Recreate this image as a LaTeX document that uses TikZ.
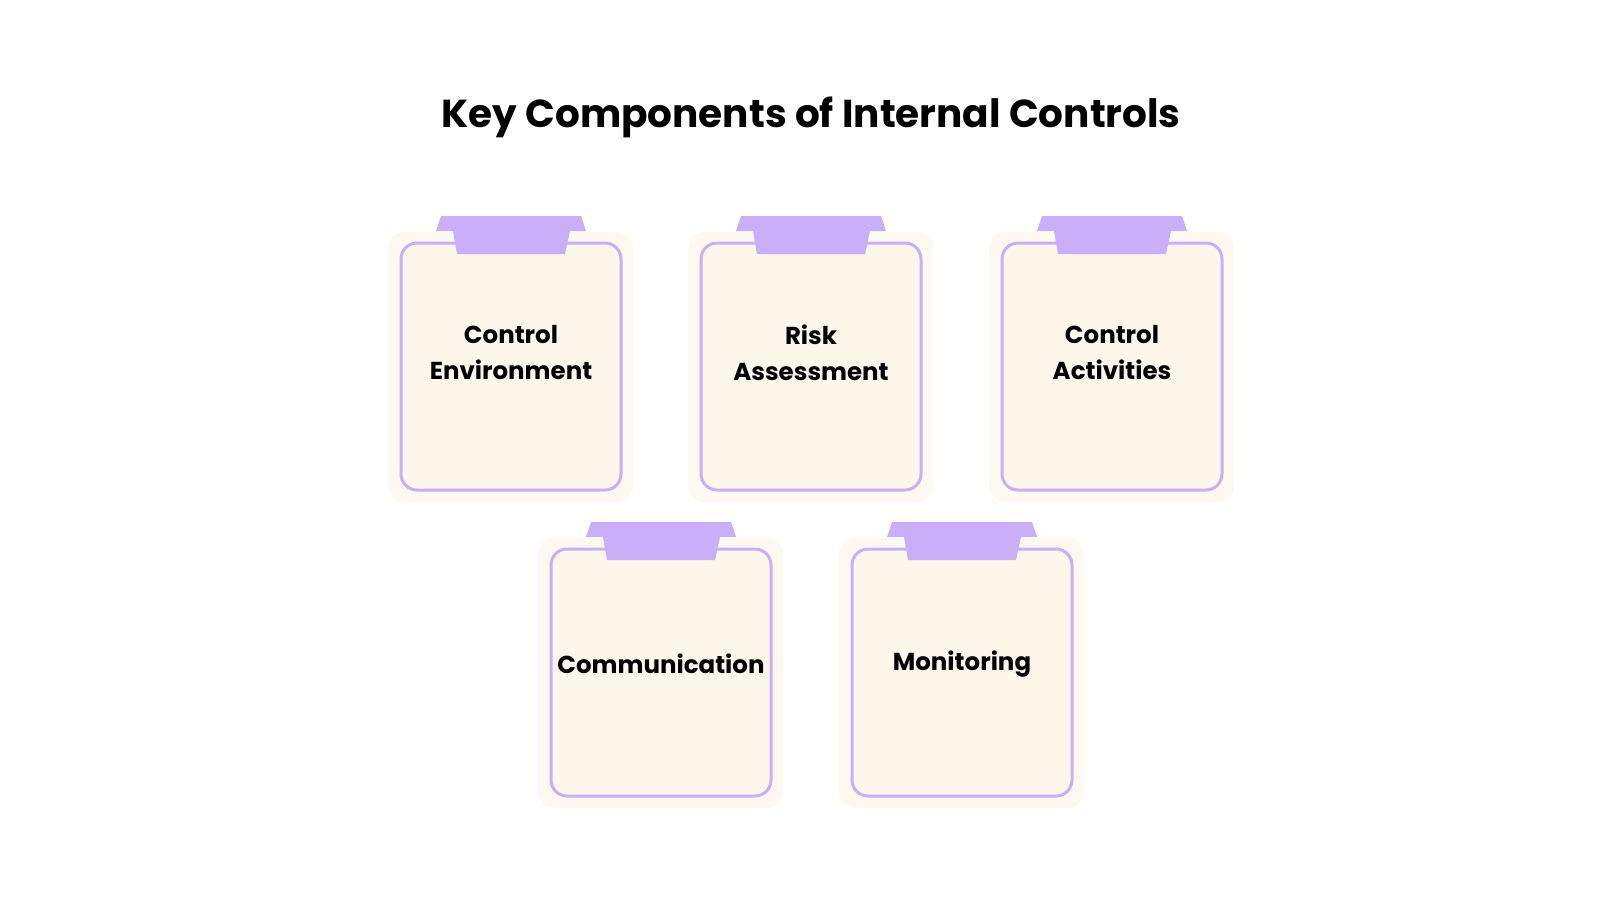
\documentclass[tikz,border=0pt]{standalone}
\usepackage{fontspec}
\setmainfont{Poppins}
\definecolor{cardbg}{HTML}{FDF6EA}
\definecolor{lilac}{HTML}{C9AEF9}
\tikzset{x=1pt, y=-1pt,
cardshade/.style={fill=cardbg!70, draw=none, rounded corners=16pt}, % outer soft panel
cardbox/.style={draw=lilac, line width=3pt, fill=cardbg, rounded corners=16pt,
  minimum width=220pt, minimum height=247pt, inner sep=0pt},
cardclip/.style={fill=lilac, draw=none},
cardlabel/.style={font=\fontsize{24.5}{36}\selectfont\bfseries, align=center, text=black},
}
\begin{document}
\begin{tikzpicture}
\useasboundingbox (0,0) rectangle (1600,900);
\node[font=\fontsize{39}{48}\selectfont\bfseries] (title) at (811,117) {Key Components of Internal Controls};
\foreach \cx/\cy/\ly/\nm/\txt in {511/0/353/ce/{Control\\Environment}, 811/0/353/ra/{Risk\\Assessment},
  1112/0/353/ca/{Control\\Activities}, 661/306/358/cm/{Communication}, 962/306/358/mo/{Monitoring}} {
  \begin{scope}[shift={(\cx,\cy)}]
  \fill[cardshade] (-123,232) rectangle (122,502);
  \node[cardbox] (\nm) at (0,366.5) {};
  \fill[cardclip] (-70,216) -- (70,216) -- (75,231) -- (59,231) -- (54,254)
    -- (-54,254) -- (-58,231) -- (-75,231) -- cycle;
  \node[cardlabel] (\nm-label) at (0,\ly) {\txt};
  \end{scope}
}
\end{tikzpicture}
\end{document}
